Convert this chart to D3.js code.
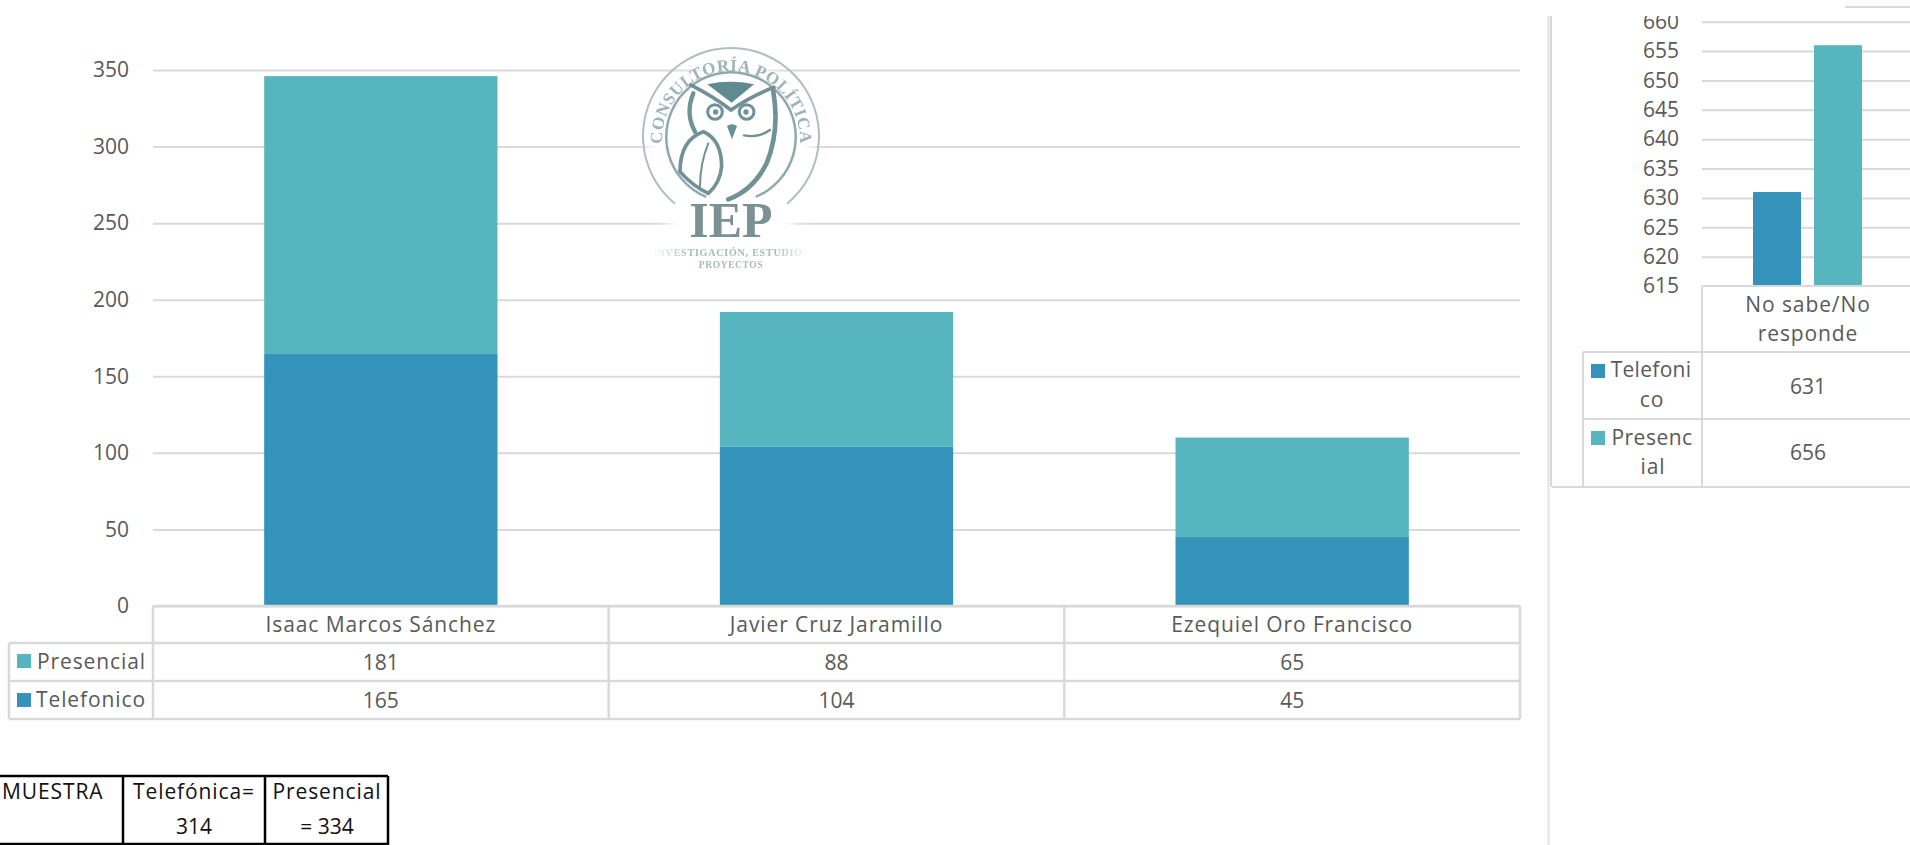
<!DOCTYPE html>
<html>
<head>
<meta charset="utf-8">
<script src="https://cdn.jsdelivr.net/npm/d3@7"></script>
<style>
  html, body { margin: 0; padding: 0; background: #fff; overflow: hidden; }
  svg { display: block; }
  text { font-family: "Open Sans", sans-serif; font-size: 21px; fill: #595959; }
  .black text, text.black { fill: #111; }
  .tick line { stroke: #d9d9d9; stroke-width: 2px; }
</style>
</head>
<body>
<div id="chart"></div>
<script>
// Section 1: data
// ===========================
var candidates = ["Isaac Marcos Sánchez", "Javier Cruz Jaramillo", "Ezequiel Oro Francisco"];
var telefonico = [165, 104, 45];
var presencial = [181, 88, 65];
var mainTicks = [0, 50, 100, 150, 200, 250, 300, 350];

var sideCategory = ["No sabe/No", "responde"];
var sideTelefonico = 631;
var sidePresencial = 656;
var sideTicks = [615, 620, 625, 630, 635, 640, 645, 650, 655, 660];

var muestraHead = "MUESTRA";
var muestraTel = ["Telefónica=", "314"];
var muestraPres = ["Presencial", "= 334"];

// colours
var blue = "#3393ba";
var teal = "#57b5c0";
var lineGray = "#d9d9d9";

var svg = d3.select("#chart").append("svg").attr("width", 1910).attr("height", 845);
var defs = svg.append("defs");

function line(g, x1, y1, x2, y2, color, w) {
  g.append("line").attr("x1", x1).attr("y1", y1).attr("x2", x2).attr("y2", y2)
    .attr("stroke", color || lineGray).attr("stroke-width", w || 2);
}

// words run a bit wider than the installed font, digits do not
function label(g, x, y, str, anchor) {
  var t = g.append("text").attr("x", x).attr("y", y)
    .attr("text-anchor", anchor || "middle")
    .attr("dominant-baseline", "central")
    .text(str);
  if (/[a-zA-Z]/.test(String(str))) t.attr("letter-spacing", 0.9);
  return t;
}

// Section 2: main stacked chart
// ===========================
var x = d3.scaleBand().domain(candidates).range([153, 1520]).paddingInner(0).paddingOuter(0);
var yMain = d3.scaleLinear().domain([0, 350]).range([606, 70]);
var barWidth = x.bandwidth() * 0.512;

var mainAxis = svg.append("g").attr("transform", "translate(153,0)")
  .call(d3.axisLeft(yMain).tickValues(mainTicks).tickSizeInner(-(1520 - 153)).tickSizeOuter(0).tickPadding(24));
mainAxis.select(".domain").remove();
mainAxis.selectAll(".tick text").style("font-size", "21px").style("font-family", "'Open Sans', sans-serif").attr("fill", "#595959");
mainAxis.selectAll(".tick line").attr("stroke", lineGray);

var rows = candidates.map(function(c, i) {
  return { name: c, telefonico: telefonico[i], presencial: presencial[i] };
});
var stacked = d3.stack().keys(["telefonico", "presencial"])(rows);
var colorOf = { telefonico: blue, presencial: teal };

svg.append("g").selectAll("g").data(stacked).enter().append("g")
  .attr("fill", function(d) { return colorOf[d.key]; })
  .selectAll("rect").data(function(d) { return d; }).enter().append("rect")
  .attr("x", function(d) { return x(d.data.name) + (x.bandwidth() - barWidth) / 2; })
  .attr("width", barWidth)
  .attr("y", function(d) { return yMain(d[1]); })
  .attr("height", function(d) { return yMain(d[0]) - yMain(d[1]); });

// data table under the main chart
var table = svg.append("g");
var rowY = [606, 643, 681, 719];
line(table, 153, rowY[0], 1520, rowY[0], lineGray, 2.5);
line(table, 9, rowY[1], 1520, rowY[1], lineGray, 2.5);
line(table, 9, rowY[2], 1520, rowY[2], lineGray, 2.5);
line(table, 9, rowY[3], 1520, rowY[3], lineGray, 2.5);
line(table, 9, rowY[1], 9, rowY[3], lineGray, 2.5);
line(table, 153, rowY[0], 153, rowY[3], lineGray, 2.5);
candidates.forEach(function(c, i) {
  var edge = x(c) + x.bandwidth();
  line(table, edge, rowY[0], edge, rowY[3], lineGray, 2.5);
  var mid = x(c) + x.bandwidth() / 2;
  label(table, mid, 624, c);
  label(table, mid, 662, presencial[i]);
  label(table, mid, 700, telefonico[i]);
});
table.append("rect").attr("x", 17).attr("y", 654).attr("width", 14).attr("height", 14).attr("fill", teal);
table.append("rect").attr("x", 17).attr("y", 693).attr("width", 14).attr("height", 14).attr("fill", blue);
label(table, 37, 661, "Presencial", "start");
label(table, 36, 699, "Telefonico", "start");

// Section 3: sample box
// ===========================
var muestra = svg.append("g").attr("class", "black");
line(muestra, 0, 776, 388, 776, "#000", 2.5);
line(muestra, 0, 844, 388, 844, "#000", 2.5);
line(muestra, 123, 776, 123, 845, "#000", 2.5);
line(muestra, 265, 776, 265, 845, "#000", 2.5);
line(muestra, 388, 776, 388, 845, "#000", 2.5);
label(muestra, 2, 791, muestraHead, "start");
label(muestra, 194, 791, muestraTel[0]);
label(muestra, 194, 826, muestraTel[1]);
label(muestra, 327, 791, muestraPres[0]);
label(muestra, 327, 826, muestraPres[1]);

// Section 4: side panel, clipped at the top like the original
// ===========================
defs.append("clipPath").attr("id", "sideClip").append("rect")
  .attr("x", 1552).attr("y", 16).attr("width", 360).attr("height", 830);

var side = svg.append("g").attr("clip-path", "url(#sideClip)");
var ySide = d3.scaleLinear().domain([615, 660]).range([286, 21.7]);

var sideAxis = side.append("g").attr("transform", "translate(1702,0)")
  .call(d3.axisLeft(ySide).tickValues(sideTicks).tickSizeInner(-212).tickSizeOuter(0).tickPadding(23));
sideAxis.select(".domain").remove();
sideAxis.selectAll(".tick text").style("font-size", "21px").style("font-family", "'Open Sans', sans-serif").attr("fill", "#595959");
sideAxis.selectAll(".tick line").attr("stroke", lineGray);
sideAxis.selectAll(".tick").filter(function(d) { return d === 615; }).select("line").remove();

var x0 = d3.scaleBand().domain(["Telefonico", "Presencial"]).range([1753, 1862]).paddingInner(0.213);
var sideVals = [sideTelefonico, sidePresencial];
side.append("g").selectAll("rect").data(x0.domain()).enter().append("rect")
  .attr("x", function(d) { return x0(d); })
  .attr("width", x0.bandwidth())
  .attr("y", function(d, i) { return ySide(sideVals[i]); })
  .attr("height", function(d, i) { return ySide(615) - ySide(sideVals[i]); })
  .attr("fill", function(d, i) { return i === 0 ? blue : teal; });

var sideRowY = [286, 352, 419, 487];
line(side, 1702, sideRowY[0], 1912, sideRowY[0]);
line(side, 1583, sideRowY[1], 1912, sideRowY[1]);
line(side, 1583, sideRowY[2], 1912, sideRowY[2]);
line(side, 1552, sideRowY[3], 1912, sideRowY[3]);
line(side, 1583, sideRowY[1], 1583, sideRowY[3]);
line(side, 1702, sideRowY[0], 1702, sideRowY[3]);
label(side, 1808, 304, sideCategory[0]);
label(side, 1808, 333, sideCategory[1]);
label(side, 1808, 386, sideTelefonico);
label(side, 1808, 452, sidePresencial);
side.append("rect").attr("x", 1591).attr("y", 364).attr("width", 14).attr("height", 14).attr("fill", blue);
side.append("rect").attr("x", 1591).attr("y", 431).attr("width", 14).attr("height", 14).attr("fill", teal);
label(side, 1651, 369, "Telefoni").attr("letter-spacing", 0.3);
label(side, 1652, 399, "co");
label(side, 1652, 437, "Presenc").attr("letter-spacing", 0.5);
label(side, 1653, 466, "ial");

// panel frame: two strips, the inner one stops at the table bottom
line(svg, 1548.5, 16, 1548.5, 845, "#e2e2e2", 2);
line(svg, 1551, 16, 1551, 487, lineGray, 2);
line(svg, 1845, 7, 1910, 7, lineGray, 2);

// Section 5: watermark logo
// ===========================
var blur = defs.append("filter").attr("id", "soft").attr("x", "-20%").attr("y", "-20%").attr("width", "140%").attr("height", "140%");
blur.append("feGaussianBlur").attr("stdDeviation", 0.7);
var blurWide = defs.append("filter").attr("id", "halo").attr("x", "-30%").attr("y", "-30%").attr("width", "160%").attr("height", "160%");
blurWide.append("feGaussianBlur").attr("stdDeviation", 7);

var fade = defs.append("linearGradient").attr("id", "fadeText");
fade.append("stop").attr("offset", "0%").attr("stop-color", "#fff");
fade.append("stop").attr("offset", "22%").attr("stop-color", "#a9b9bb");
fade.append("stop").attr("offset", "78%").attr("stop-color", "#a9b9bb");
fade.append("stop").attr("offset", "100%").attr("stop-color", "#fff");

svg.append("ellipse").attr("cx", 731).attr("cy", 160).attr("rx", 84).attr("ry", 100)
  .attr("fill", "#fff").attr("filter", "url(#halo)");

var logo = svg.append("g").attr("filter", "url(#soft)");
var logoColor = "#6f9196";
var ring = d3.arc();
logo.append("path").attr("transform", "translate(731,136)")
  .attr("d", ring({ innerRadius: 87, outerRadius: 89, startAngle: -2.45, endAngle: 2.45 }))
  .attr("fill", "#aebfc1");
logo.append("path").attr("transform", "translate(731,137)")
  .attr("d", ring({ innerRadius: 63.5, outerRadius: 66, startAngle: -2.75, endAngle: 2.75 }))
  .attr("fill", "#8fa9ac");

defs.append("path").attr("id", "ringText").attr("d", "M 662,140 A 69,69 0 1 1 800,140");
logo.append("text").style("font-family", "'Liberation Serif', serif").style("font-size", "17px").style("font-weight", "bold")
  .style("fill", "#9db3b5").attr("text-anchor", "middle").attr("letter-spacing", 0.6)
  .append("textPath").attr("href", "#ringText").attr("startOffset", "50%").text("CONSULTORÍA POLÍTICA");

// owl, drawn at 3x and scaled back down
var owl = logo.append("g").attr("transform", "translate(600,30) scale(0.3333)")
  .attr("fill", "none").attr("stroke", logoColor).attr("stroke-linecap", "round");
owl.append("path").attr("d", "M322,163 Q392,148 462,163 L395,218 Z").attr("fill", "#5f8a90").attr("stroke", "none");
owl.append("path").attr("d", "M272,165 Q340,200 393,240 Q450,200 522,172").attr("stroke-width", 11);
owl.append("circle").attr("cx", 345).attr("cy", 246).attr("r", 22).attr("stroke-width", 9);
owl.append("circle").attr("cx", 440).attr("cy", 246).attr("r", 22).attr("stroke-width", 9);
owl.append("circle").attr("cx", 347).attr("cy", 246).attr("r", 8).attr("fill", logoColor).attr("stroke", "none");
owl.append("circle").attr("cx", 438).attr("cy", 246).attr("r", 8).attr("fill", logoColor).attr("stroke", "none");
owl.append("path").attr("d", "M381,288 Q396,278 411,288 L396,328 Z").attr("fill", "#6b8f94").attr("stroke", "none");
owl.append("path").attr("d", "M520,185 Q540,300 500,400 Q460,480 385,508").attr("stroke-width", 14);
owl.append("path").attr("d", "M432,316 Q475,325 510,300").attr("stroke-width", 7);
owl.append("path").attr("d", "M280,190 Q255,250 285,305").attr("stroke-width", 13);
owl.append("path").attr("d", "M240,425 Q240,330 310,305 Q365,330 365,410 Q360,460 325,490 Q280,470 240,425 Z").attr("stroke-width", 11);
owl.append("path").attr("d", "M300,470 Q300,400 325,340").attr("stroke-width", 6);

logo.append("text").attr("x", 731).attr("y", 237).attr("text-anchor", "middle")
  .style("font-family", "'Liberation Serif', serif").style("font-size", "50px").style("font-weight", "bold")
  .style("fill", "#7b9194").text("IEP");
logo.append("text").attr("x", 731).attr("y", 256).attr("text-anchor", "middle")
  .style("font-family", "'Liberation Serif', serif").style("font-size", "10px").style("font-weight", "bold")
  .style("fill", "url(#fadeText)").attr("letter-spacing", 0.8).text("INVESTIGACIÓN, ESTUDIOS");
logo.append("text").attr("x", 731).attr("y", 268).attr("text-anchor", "middle")
  .style("font-family", "'Liberation Serif', serif").style("font-size", "9.5px").style("font-weight", "bold")
  .style("fill", "#a9b9bb").attr("letter-spacing", 0.6).text("PROYECTOS");
</script>
</body>
</html>
